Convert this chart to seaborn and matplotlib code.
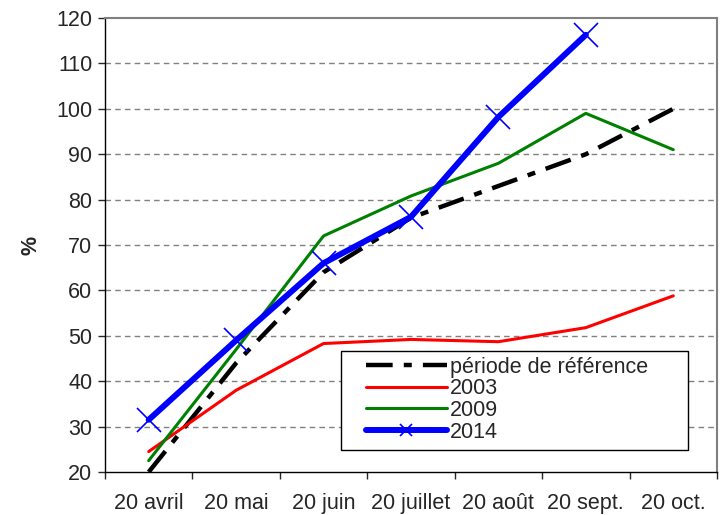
import matplotlib
matplotlib.use('Agg')
import matplotlib.pyplot as plt
from matplotlib.patches import Rectangle
import numpy as np
import pandas as pd
import seaborn as sns

months = ['20 avril', '20 mai', '20 juin', '20 juillet', '20 août', '20 sept.', '20 oct.']
reference = [20, 44, 64, 76, 83, 90, 100]
y2003 = [24.5, 38, 48.3, 49.2, 48.7, 51.8, 58.8]
y2009 = [22.5, 47, 72, 80.8, 88, 99, 91]
y2014 = [31.5, 49, 66, 76.2, 98.2, 116.3, np.nan]

sns.set_style('white')
plt.rcParams['font.family'] = ['Liberation Sans', 'DejaVu Sans']

pos = np.arange(len(months))
df = pd.DataFrame({'pos': pos, 'ref': reference, '2003': y2003,
                   '2009': y2009, '2014': y2014})

fig = plt.figure(figsize=(7.2, 5.15), dpi=100)
ax = fig.add_axes([0.1458, 0.0835, 0.85, 0.8815])

sns.lineplot(data=df, x='pos', y='ref', ax=ax, color='black', linewidth=3.2,
             label='période de référence')
ax.lines[-1].set_dashes((6, 2.5, 1.8, 2.5))
sns.lineplot(data=df, x='pos', y='2003', ax=ax, color='#ff0000',
             linewidth=2.2, label='2003')
sns.lineplot(data=df, x='pos', y='2009', ax=ax, color='#008000',
             linewidth=2.2, label='2009')
sns.lineplot(data=df, x='pos', y='2014', ax=ax, color='#0000ff',
             linewidth=4.3, marker='x', markersize=17, markeredgewidth=1.2,
             markeredgecolor='#0000ff', label='2014')

ax.set_xlim(-0.5, len(months) - 0.5)
ax.set_ylim(20, 120)
ax.set_yticks(range(20, 121, 10))
ax.set_xticks(pos)
ax.set_xticklabels(months)
ax.set_xticks(np.arange(-0.5, len(months)), minor=True)
ax.tick_params(axis='x', which='major', length=0, labelsize=15.5, pad=15)
ax.tick_params(axis='x', which='minor', length=5, width=1, direction='out',
               bottom=True)
ax.tick_params(axis='y', length=5, width=1, direction='out', left=True,
               labelsize=15.5, pad=4)
ax.set_xlabel('')
ax.set_ylabel('%', fontsize=15.5, fontweight='bold', labelpad=11)

for y in range(30, 120, 10):
    ax.axhline(y, color='#808080', linewidth=1, dashes=(4, 3), zorder=0)

for side in ['left', 'bottom']:
    ax.spines[side].set_color('black')
    ax.spines[side].set_linewidth(1)
for side in ['top', 'right']:
    ax.spines[side].set_color('#808080')
    ax.spines[side].set_linewidth(1.5)

# legend box drawn separately so its padding matches the reference
ax.add_patch(Rectangle((0.385, 0.0485), 0.5677, 0.218, transform=ax.transAxes,
                       facecolor='white', edgecolor='black', linewidth=1,
                       zorder=4))
leg = ax.legend(loc='upper left', bbox_to_anchor=(0.4258, 0.254),
                borderaxespad=0, borderpad=0, fontsize=15.5, handlelength=3.8,
                handletextpad=0.1, labelspacing=0.03, frameon=False)
leg.set_zorder(5)
leg.legend_handles[3].set_markersize(9)

fig.savefig('out.png', dpi=100)
